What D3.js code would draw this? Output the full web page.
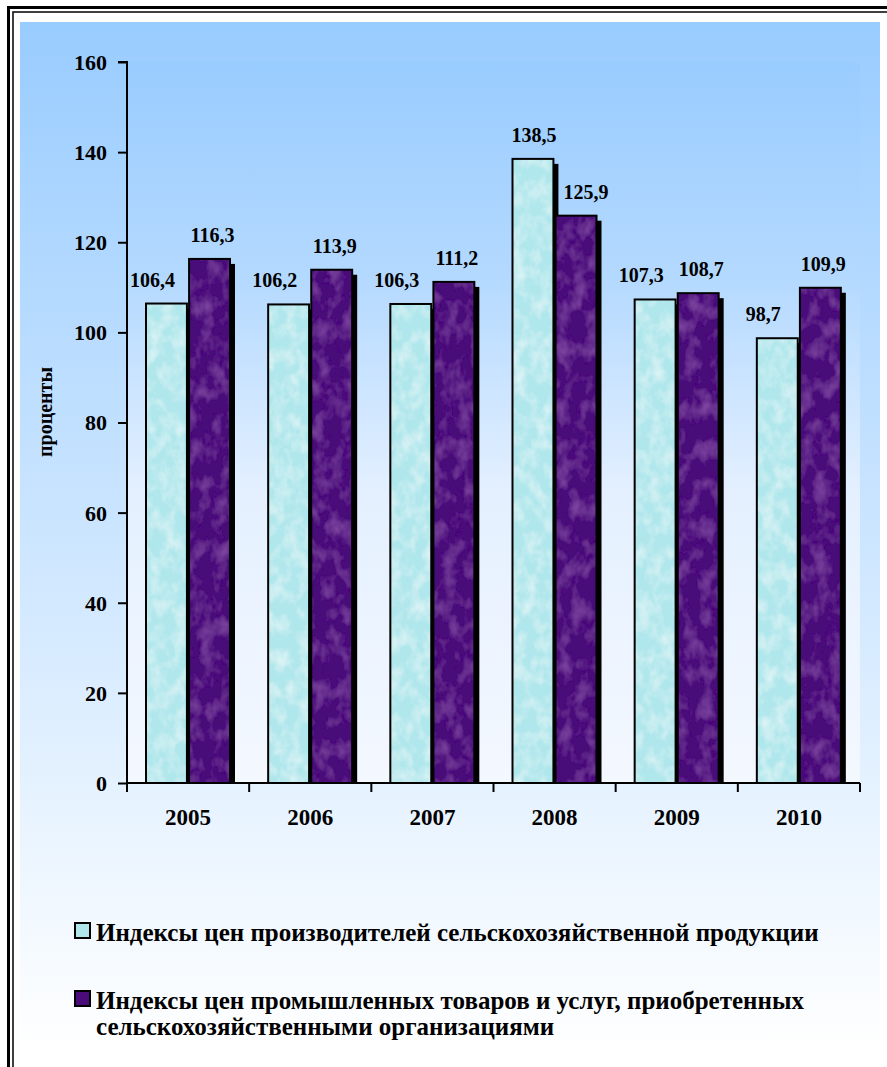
<!DOCTYPE html>
<html>
<head>
<meta charset="utf-8">
<script src="https://cdn.jsdelivr.net/npm/d3@7"></script>
<style>
  html, body { margin: 0; padding: 0; background: #ffffff; }
  svg { display: block; }
</style>
</head>
<body>
<svg id="chart" width="887" height="1067"></svg>
<script>
// ---- data ----
const years = ["2005", "2006", "2007", "2008", "2009", "2010"];
const producerIndex = [106.4, 106.2, 106.3, 138.5, 107.3, 98.7];
const industrialIndex = [116.3, 113.9, 111.2, 125.9, 108.7, 109.9];
const yTicks = [0, 20, 40, 60, 80, 100, 120, 140, 160];
const seriesNames = [
  "Индексы цен производителей сельскохозяйственной продукции",
  "Индексы цен промышленных товаров и услуг, приобретенных сельскохозяйственными организациями"
];
const legendLines = [
  ["Индексы цен производителей сельскохозяйственной продукции"],
  ["Индексы цен промышленных товаров и услуг, приобретенных", "сельскохозяйственными организациями"]
];
const yAxisTitle = "проценты";

// ---- drawing ----
(function () {
const FONT = "'Liberation Serif'";
const svg = d3.select("#chart");
const defs = svg.append("defs");
const serif = sel => sel.style("font-family", FONT).style("font-weight", "bold").style("fill", "#000");

const gOuter = defs.append("linearGradient").attr("id", "bgOuter")
  .attr("gradientUnits", "userSpaceOnUse").attr("x1", 0).attr("y1", 22).attr("x2", 0).attr("y2", 1050);
gOuter.append("stop").attr("offset", 0).attr("stop-color", "#99ccff");
gOuter.append("stop").attr("offset", 1).attr("stop-color", "#ffffff");

const gPlot = defs.append("linearGradient").attr("id", "bgPlot")
  .attr("gradientUnits", "userSpaceOnUse").attr("x1", 0).attr("y1", 62).attr("x2", 0).attr("y2", 783);
[[0, "#99ccff"], [0.3, "#b4d9ff"], [0.6, "#e4f0ff"], [1, "#f4f8ff"]].forEach(s =>
  gPlot.append("stop").attr("offset", s[0]).attr("stop-color", s[1]));

function texture(id, color, seed, freq, k, b) {
  const f = defs.append("filter").attr("id", id)
    .attr("x", 0).attr("y", 0).attr("width", 1).attr("height", 1);
  f.append("feTurbulence").attr("type", "fractalNoise").attr("baseFrequency", freq)
    .attr("numOctaves", 3).attr("seed", seed).attr("result", "n");
  f.append("feColorMatrix").attr("in", "n").attr("type", "matrix")
    .attr("values", `0 0 0 0 ${color[0]} 0 0 0 0 ${color[1]} 0 0 0 0 ${color[2]} ${k} 0 0 0 ${b}`)
    .attr("result", "spots");
  f.append("feComposite").attr("in", "spots").attr("in2", "SourceGraphic").attr("operator", "in").attr("result", "s2");
  const m = f.append("feMerge");
  m.append("feMergeNode").attr("in", "SourceGraphic");
  m.append("feMergeNode").attr("in", "s2");
}
texture("texCyan", [1, 1, 1], 7, "0.08 0.06", 1.0, -0.4);
texture("texCyanDark", [0.45, 0.72, 0.78], 11, "0.06 0.05", 0.8, -0.35);
texture("texPurple", [0.45, 0.15, 0.62], 5, "0.07 0.05", 0.8, -0.35);

svg.append("rect").attr("x", 20).attr("y", 22).attr("width", 860).attr("height", 1030)
  .attr("fill", "url(#bgOuter)");
svg.append("path").attr("d", "M8.5,1067 V7.5 H887").attr("fill", "none").attr("stroke", "#000").attr("stroke-width", 3);
svg.append("path").attr("d", "M13,1067 V12 H887").attr("fill", "none").attr("stroke", "#000").attr("stroke-width", 1.5);

const pLeft = 127, pRight = 860, pTop = 62, pBottom = 783;
const x0 = d3.scaleBand().domain(years).range([pLeft, pRight]).paddingInner(0).paddingOuter(0);
const x1 = d3.scaleBand().domain([0, 1]).range([19, 103]).paddingInner(0.05);
const y = d3.scaleLinear().domain([0, 160]).range([pBottom, pTop]);

svg.append("rect").attr("x", pLeft).attr("y", pTop).attr("width", pRight - pLeft).attr("height", pBottom - pTop)
  .attr("fill", "url(#bgPlot)");

const series = [
  { values: producerIndex, fill: "#b0e7ec", filters: ["texCyanDark", "texCyan"] },
  { values: industrialIndex, fill: "#4a0c7a", filters: ["texPurple"] }
];

const shadow = 5;
const bars = svg.append("g");
years.forEach((yr, i) => {
  series.forEach((s, si) => {
    const v = s.values[i];
    const bx = x0(yr) + x1(si);
    const bw = x1.bandwidth();
    const by = y(v);
    bars.append("rect").attr("x", bx + shadow).attr("y", by + shadow)
      .attr("width", bw).attr("height", Math.max(0, y(0) - by - shadow)).attr("fill", "#000");
    const g = bars.append("g");
    g.append("rect").attr("x", bx).attr("y", by).attr("width", bw).attr("height", y(0) - by)
      .attr("fill", s.fill);
    s.filters.forEach(f => {
      g.append("rect").attr("x", bx).attr("y", by).attr("width", bw).attr("height", y(0) - by)
        .attr("fill", s.fill).attr("filter", `url(#${f})`);
    });
    bars.append("rect").attr("x", bx).attr("y", by).attr("width", bw).attr("height", y(0) - by)
      .attr("fill", "none").attr("stroke", "#000").attr("stroke-width", 2);
  });
});

const fmt = v => d3.format(".1f")(v).replace(".", ",");
years.forEach((yr, i) => {
  series.forEach((s, si) => {
    const v = s.values[i];
    const other = series[1 - si].values[i];
    let dx = 0;
    if (v < other) dx = si === 0 ? -14 : 10;
    else dx = si === 1 ? 3 : 1;
    svg.append("text")
      .attr("x", x0(yr) + x1(si) + x1.bandwidth() / 2 + dx)
      .attr("y", y(v) - 17)
      .attr("text-anchor", "middle").style("font-size", "20px")
      .call(serif)
      .text(fmt(v));
  });
});

const yAxis = d3.axisLeft(y).tickValues(yTicks).tickSize(9).tickPadding(11).tickFormat(d3.format("d"));
const ga = svg.append("g").attr("transform", `translate(${pLeft},0)`).call(yAxis);
ga.select(".domain").attr("stroke", "#000").attr("stroke-width", 2).attr("d", `M-9,${pTop}H0V${pBottom}`);
ga.selectAll(".tick line").attr("stroke", "#000").attr("stroke-width", 2);
ga.selectAll(".tick text").attr("dy", "0.34em").style("font-size", "22px").call(serif);

const xAxis = d3.axisBottom(x0).tickSize(0).tickPadding(26);
const gx = svg.append("g").attr("transform", `translate(0,${pBottom})`).call(xAxis);
gx.select(".domain").attr("stroke", "#000").attr("stroke-width", 2).attr("d", `M${pLeft},0H${pRight}`);
gx.selectAll(".tick text").style("font-size", "23px").call(serif);
const sepPos = years.map(yv => x0(yv)).concat([x0(years[years.length - 1]) + x0.bandwidth()]);
gx.selectAll("line.sep").data(sepPos).enter().append("line").attr("class", "sep")
  .attr("x1", d => d).attr("x2", d => d).attr("y1", 0).attr("y2", 9)
  .attr("stroke", "#000").attr("stroke-width", 2);

svg.append("text").attr("transform", "translate(52,412) rotate(-90)")
  .attr("text-anchor", "middle").style("font-size", "20px").call(serif)
  .text(yAxisTitle);

const legend = svg.append("g");
const legendY = [923, 991];
legendLines.forEach((lines, li) => {
  const s = series[li];
  legend.append("rect").attr("x", 75).attr("y", legendY[li]).attr("width", 15).attr("height", 15)
    .attr("fill", s.fill).attr("stroke", "#000").attr("stroke-width", 2);
  const t = legend.append("text").attr("x", 96).attr("y", legendY[li] + 18)
    .style("font-size", "25px").call(serif);
  lines.forEach((ln, k) => {
    t.append("tspan").attr("x", 96).attr("dy", k === 0 ? 0 : 26).text(ln);
  });
});
})();
</script>
</body>
</html>
